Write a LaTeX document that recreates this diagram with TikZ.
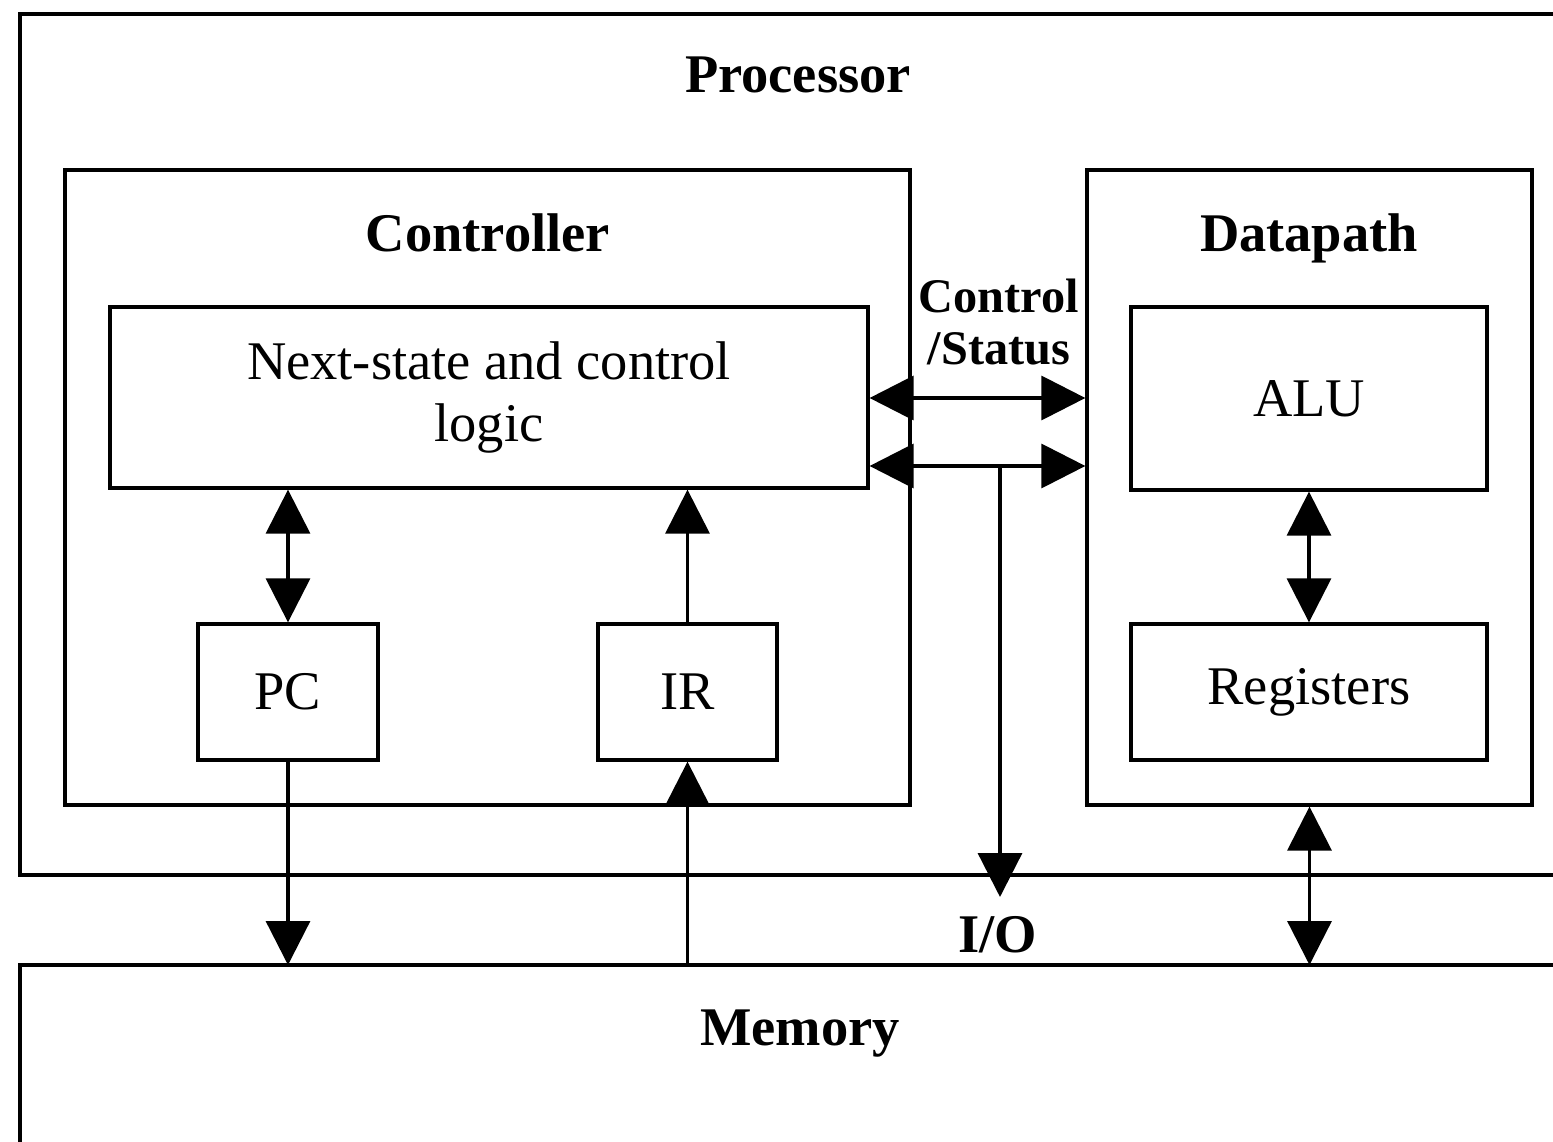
\documentclass[tikz,border=0pt]{standalone}
\usepackage{fontspec}
\setmainfont{Liberation Serif}
\usetikzlibrary{arrows.meta}
\begin{document}
\begin{tikzpicture}[x = 0.02cm, y = -0.02cm, line width = 1.9pt,
        >={Triangle[length = 25pt, width = 25pt]},
        every node/.style = {font = \fontsize{31}{35}\selectfont},
        box/.style = {draw, inner sep = 0pt},
        title/.style = {font = \fontsize{31}{35}\selectfont\bfseries}]
        \useasboundingbox (0, 0) rectangle (1553, 1142);

        \draw (1553, 14) -- (20, 14) -- (20, 875) -- (1553, 875);
        \draw (1553, 965) -- (20, 965) -- (20, 1142);
        \coordinate (memtop) at (0, 965);

        \node[box, minimum width = 16.9cm, minimum height = 12.7cm] (ctrl) at (487.5, 487.5) {};
        \node[box, minimum width = 8.9cm, minimum height = 12.7cm] (dp) at (1309.5, 487.5) {};
        \node[box, minimum width = 15.16cm, minimum height = 3.62cm, align = center] (nsl) at (489, 397.5) {Next-state and control\\logic};
        \node[box, minimum width = 3.6cm, minimum height = 2.72cm] (pc) at (288, 692) {PC};
        \node[box, minimum width = 3.58cm, minimum height = 2.72cm] (ir) at (687.5, 692) {IR};
        \node[box, minimum width = 7.12cm, minimum height = 3.66cm] (alu) at (1309, 398.5) {ALU};
        \node[box, minimum width = 7.12cm, minimum height = 2.72cm] (reg) at (1309, 692) {Registers};

        \node[title] (proc) at (798, 75) {Processor};
        \node[title] (ctrltitle) at (488, 233) {Controller};
        \node[title] (dptitle) at (1309, 238) {Datapath};
        \node[title] (mem) at (800, 1034) {Memory};
        \node[title] (io) at (998, 935) {I/O};
        \node[font = \fontsize{27.5}{30}\selectfont\bfseries, align = center] (cs) at (999, 322) {Control\\/Status};

        \coordinate (bus1) at (1000, 398);
        \coordinate (bus2) at (1000, 466);
        \coordinate (iotip) at (1000, 897);

        \draw[<->] (nsl.east |- bus1) to (dp.west |- bus1);
        \draw[<->] (nsl.east |- bus2) to (dp.west |- bus2);
        \draw[->] (bus2) to (iotip);

        \draw[<->] (nsl.south -| pc.north) to (pc.north);
        \draw[->] (ir.north) to (ir.north |- nsl.south);
        \draw[->] (pc.south) to (pc.south |- memtop);
        \draw[->] (ir.south |- memtop) to (ir.south);
        \draw[<->] (alu.south) to (reg.north);
        \draw[<->] (dp.south) to (dp.south |- memtop);
    \end{tikzpicture}
\end{document}
